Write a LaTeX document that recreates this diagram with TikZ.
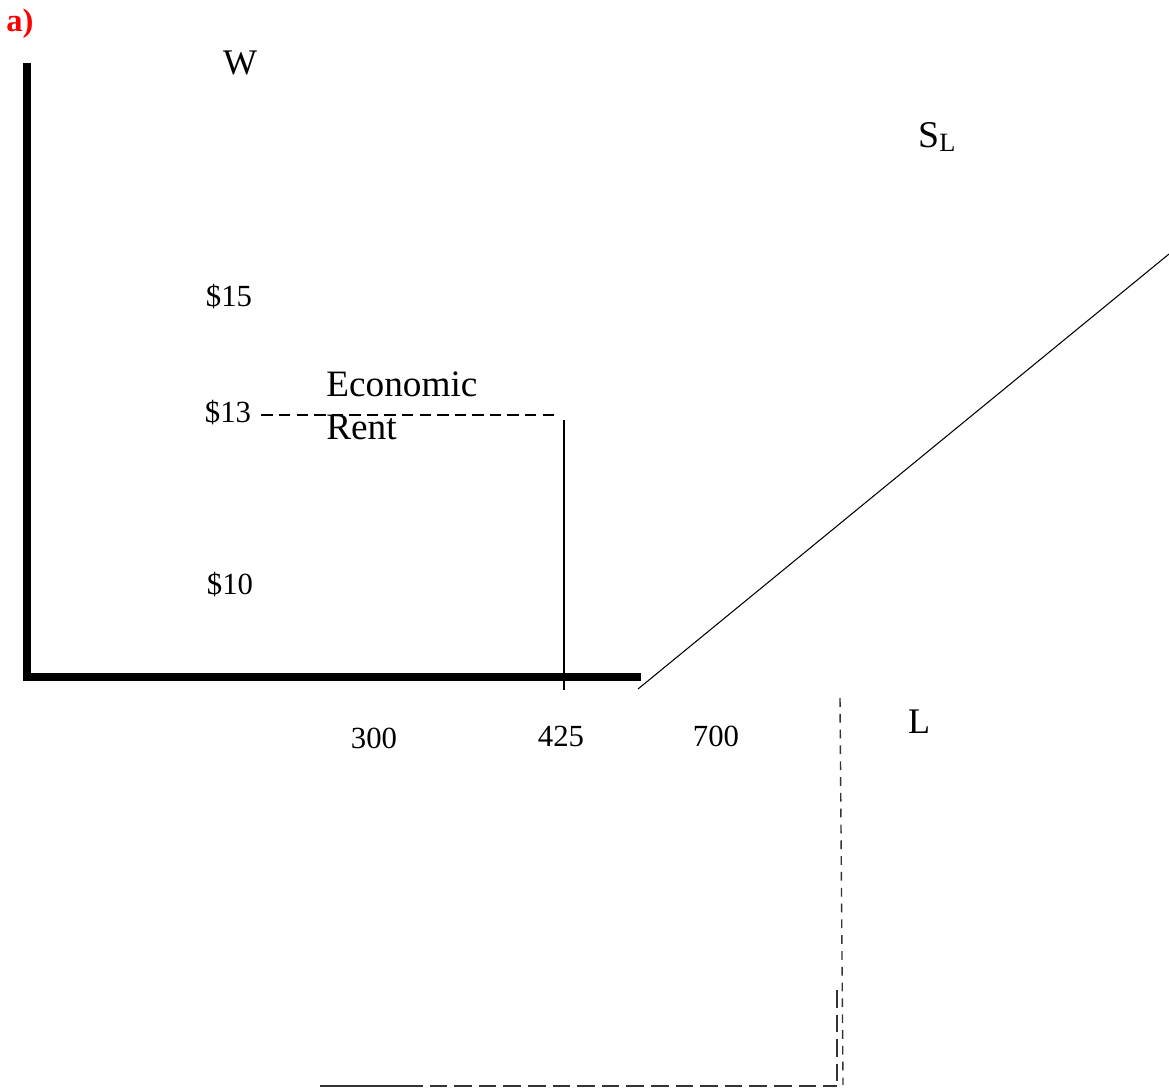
\documentclass[tikz,border=0pt]{standalone}
\usepackage{fontspec}
\setmainfont{Liberation Serif}
\usetikzlibrary{positioning,calc}
\begin{document}
\begin{tikzpicture}[x=0.02cm,y=-0.02cm]
\tikzstyle{every node}=[inner sep=0pt,text=black,
font=\fontsize{20.5}{24}\selectfont]
\tikzstyle{tick}=[font=\fontsize{17.5}{20}\selectfont]
\tikzstyle{axis}=[line width=4.6pt]
\tikzstyle{guide}=[line width=0.6pt]
\tikzstyle{rentline}=[line width=1.1pt,dash pattern=on 6.5 off 3.5]
\tikzstyle{shortdash}=[line width=0.8pt,draw=black!80,dash pattern=on 5 off 4]
\tikzstyle{longdash}=[line width=0.9pt,draw=black!80,dash pattern=on 10 off 4]

\useasboundingbox (0,0) rectangle (1169,1089);

\node[text=red,font=\fontsize{18.5}{20}\bfseries] (part) at (20,24) {a)};

% axes
\coordinate (top) at (27,63);
\coordinate (origin) at (27,677);
\coordinate (right) at (641,677);
\draw[axis] (top) -- ($(origin)+(0,4)$);
\draw[axis] ($(origin)+(-4,0)$) -- (right);

\node (W) at (240,63) {W};
\node (L) at (919,722) {L};

% supply
\coordinate (s0) at (638,689);
\coordinate (s1) at (1169,254);
\draw[guide] (s0) -- (s1);
\node (SL) at (937,137) {\fontsize{21.5}{24}\selectfont S\fontsize{15}{16}\selectfont\raisebox{-0.25ex}{L}};

% wage ticks
\node[tick] (w15) at (229,297) {\$15};
\node[tick] (w13) at (228,413) {\$13};
\node[tick] (w10) at (230,585) {\$10};

% labour ticks
\node[tick] (q300) at (374,738) {300};
\node[tick] (q425) at (561,736) {425};
\node[tick] (q700) at (716,736) {700};

% economic rent
\coordinate (r1) at (557,415);
\draw[rentline] (w13.east) ++(10,2) -- (r1);
\coordinate (v0) at (564,420);
\coordinate (v1) at (564,690);
\draw[guide] (v0) -- (v1);
\node[anchor=west,font=\fontsize{21.2}{24}\selectfont] (econ) at (326,384) {Economic};
\node[anchor=west,font=\fontsize{21.2}{24}\selectfont] (rent) at (326,427) {Rent};

% dashed bits below
\coordinate (d0) at (840,698);
\coordinate (d1) at (843,1085);
\draw[shortdash] (d0) -- (d1);
\coordinate (e0) at (837,990);
\coordinate (e1) at (837,1086);
\draw[longdash] (e0) -- (e1);
\coordinate (h0) at (320,1086);
\coordinate (h1) at (405,1086);
\draw[line width=0.9pt,draw=black!80] (h0) -- (h1);
\draw[longdash] (h1) -- (e1);
\end{tikzpicture}
\end{document}
